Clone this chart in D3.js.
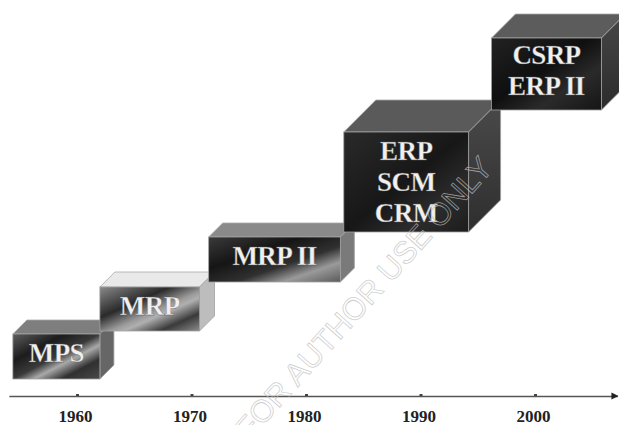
<!DOCTYPE html>
<html>
<head>
<meta charset="utf-8">
<script src="https://cdn.jsdelivr.net/npm/d3@7"></script>
<style>
  html, body { margin: 0; padding: 0; background: #fff; }
  svg { display: block; }
</style>
</head>
<body>
<svg id="chart" width="619" height="425"></svg>
<script>
// ---- data ----
const stages = ["MPS", "MRP", "MRP II", "ERP\nSCM\nCRM", "CSRP\nERP II"];
const startYear = [1954.4, 1962.0, 1971.5, 1983.3, 1996.2];
const endYear   = [1962.0, 1970.7, 1983.0, 1994.2, 2005.8];
const levelLow  = [17, 65, 114, 164, 286];
const levelHigh = [62, 109, 159, 264, 358];
const tickYears = [1960, 1970, 1980, 1990, 2000];
const tickLabels = ["1960", "1970", "1980", "1990", "2000"];
const axisStart = 1954.05, axisEnd = 2007.2;
const watermark = "FOR AUTHOR USE ONLY";

// ---- styles ----
const boxDepth = [14, 15, 14, 32, 24];
const boxStyle = [
  { front: "gMPS",  top: "#7e7e7e", side: "#666666" },
  { front: "gMRP",  top: "#e9e9e9", side: "#bdbdbd" },
  { front: "gMRP2", top: "#8a8a8a", side: "#7a7a7a" },
  { front: "gERP",  top: "#5a5a5a", side: "gSideERP" },
  { front: "gCSRP", top: "#5c5c5c", side: "gSideCSRP" }
];

const svg = d3.select("#chart");

const x = d3.scaleLinear().domain([1960, 2000]).range([77, 535]);
const y = d3.scaleLinear().domain([0, 400]).range([396, -4]);

// gradients
const defs = svg.append("defs");
function lin(id, stops, x2 = 1, y2 = 1) {
  const g = defs.append("linearGradient").attr("id", id)
    .attr("x1", 0).attr("y1", 0).attr("x2", x2).attr("y2", y2);
  stops.forEach(([o, c]) => g.append("stop").attr("offset", o).attr("stop-color", c));
}
lin("gMPS",  [[0, "#5e5e5e"], [0.3, "#1c1c1c"], [0.5, "#3a3a3a"], [0.62, "#a9a9a9"], [0.78, "#303030"], [1, "#4a4a4a"]]);
lin("gMRP",  [[0, "#8a8a8a"], [0.35, "#2a2a2a"], [0.55, "#9a9a9a"], [0.62, "#b0b0b0"], [0.8, "#3a3a3a"], [1, "#8c8c8c"]]);
lin("gMRP2", [[0, "#3a3a3a"], [0.35, "#151515"], [0.6, "#303030"], [0.78, "#9a9a9a"], [1, "#5a5a5a"]]);
lin("gERP",  [[0, "#2a2a2a"], [0.5, "#171717"], [0.75, "#2c2c2c"], [1, "#1c1c1c"]]);
lin("gCSRP", [[0, "#222"], [0.45, "#0f0f0f"], [0.7, "#2a2a2a"], [1, "#151515"]]);
lin("gSideERP",  [[0, "#4a4a4a"], [1, "#2e2e2e"]], 0, 1);
lin("gSideCSRP", [[0, "#464646"], [1, "#2c2c2c"]], 0, 1);

const fillOf = v => v.startsWith("#") ? v : `url(#${v})`;

// ---- axis ----
const xa = x.copy().domain([axisStart, axisEnd]).range([x(axisStart), x(axisEnd)]);
const axis = d3.axisBottom(xa).tickValues(tickYears).tickFormat((d, i) => tickLabels[i])
  .tickSizeInner(-2).tickSizeOuter(0).tickPadding(14);
const gAxis = svg.append("g").attr("transform", `translate(0,${y(0)})`).call(axis);
gAxis.select(".domain").attr("stroke", "#555").attr("stroke-width", 1.6);
gAxis.selectAll(".tick line").attr("stroke", "#444").attr("stroke-width", 3);
gAxis.selectAll(".tick text")
  .attr("font-family", "Liberation Serif, Times New Roman, serif")
  .attr("font-weight", "bold")
  .attr("font-size", 17)
  .attr("fill", "#222")
  .attr("dx", -2)
  .attr("dy", "0.71em");
// arrow head
const ax = x(axisEnd);
svg.append("path")
  .attr("d", d3.line()([[ax - 6, y(0) - 3.5], [ax + 1, y(0)], [ax - 6, y(0) + 3.5]]) + "Z")
  .attr("fill", "#222");

// ---- boxes ----
const boxes = stages.map((s, i) => ({
  label: s, x0: x(startYear[i]), x1: x(endYear[i]),
  yt: y(levelHigh[i]), yb: y(levelLow[i]), d: boxDepth[i], st: boxStyle[i]
}));

const gBox = svg.selectAll("g.box").data(boxes).enter().append("g").attr("class", "box");
const line = d3.line();
gBox.append("path") // top
  .attr("d", b => line([[b.x0, b.yt], [b.x0 + b.d, b.yt - b.d], [b.x1 + b.d, b.yt - b.d], [b.x1, b.yt]]) + "Z")
  .attr("fill", b => fillOf(b.st.top)).attr("stroke", "#a8a8a8").attr("stroke-width", 0.8);
gBox.append("path") // side
  .attr("d", b => line([[b.x1, b.yt], [b.x1 + b.d, b.yt - b.d], [b.x1 + b.d, b.yb - b.d], [b.x1, b.yb]]) + "Z")
  .attr("fill", b => fillOf(b.st.side)).attr("stroke", "#a0a0a0").attr("stroke-width", 0.8);
gBox.append("rect") // front
  .attr("x", b => b.x0).attr("y", b => b.yt)
  .attr("width", b => b.x1 - b.x0).attr("height", b => b.yb - b.yt)
  .attr("fill", b => fillOf(b.st.front)).attr("stroke", "#a0a0a0").attr("stroke-width", 0.8);

const lh = 31;
gBox.each(function (b) {
  const lines = b.label.split("\n");
  const cx = (b.x0 + b.x1) / 2;
  const cy = (b.yt + b.yb) / 2 - (lines.length === 3 ? 0 : 3.5);
  const t = d3.select(this).append("text")
    .attr("text-anchor", "middle")
    .attr("font-family", "Liberation Serif, Times New Roman, serif")
    .attr("font-weight", "bold")
    .attr("font-size", 27)
    .attr("fill", "#f0f0f0")
    .attr("stroke", "#555").attr("stroke-width", 0.3)
    .attr("letter-spacing", -0.6);
  lines.forEach((ln, k) => {
    t.append("tspan").attr("x", cx)
      .attr("y", cy + (k - (lines.length - 1) / 2) * lh + 9)
      .text(ln);
  });
});

// ---- watermark (on top, faint) ----
svg.append("text")
  .attr("transform", "translate(364,298) rotate(-48)")
  .attr("text-anchor", "middle")
  .attr("dominant-baseline", "central")
  .attr("font-family", "Liberation Sans, Arial, sans-serif")
  .attr("font-size", 31)
  .attr("fill", "none")
  .attr("stroke", "#bdbdbd")
  .attr("stroke-opacity", 0.75)
  .attr("stroke-width", 0.8)
  .text(watermark);
</script>
</body>
</html>
